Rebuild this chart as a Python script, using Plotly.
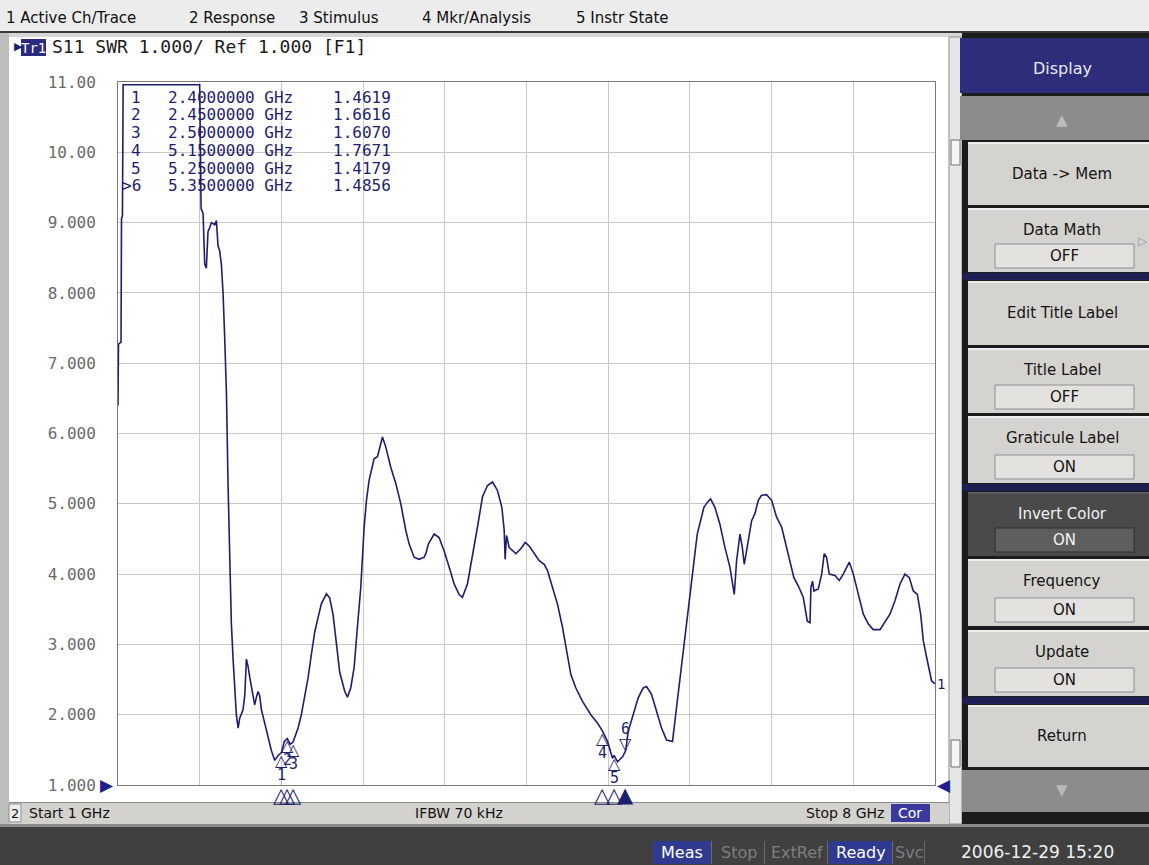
import plotly.graph_objects as go

# ---------------- data ----------------
freq_ghz = [1.000, 1.004, 1.026, 1.030, 1.038, 1.044, 1.700, 1.712, 1.729, 1.743, 1.757, 1.771,
            1.786, 1.800, 1.829, 1.843, 1.857, 1.871, 1.886, 1.900, 1.914, 1.929, 1.943, 1.957,
            1.971, 1.986, 2.000, 2.014, 2.029, 2.043, 2.071, 2.086, 2.100, 2.114, 2.129, 2.143,
            2.157, 2.171, 2.186, 2.200, 2.214, 2.229, 2.257, 2.286, 2.314, 2.343, 2.371, 2.400,
            2.425, 2.450, 2.475, 2.500, 2.514, 2.543, 2.571, 2.600, 2.629, 2.657, 2.686, 2.714,
            2.743, 2.786, 2.814, 2.843, 2.871, 2.900, 2.943, 2.966, 2.994, 3.023, 3.051, 3.080,
            3.109, 3.129, 3.151, 3.180, 3.194, 3.223, 3.243, 3.266, 3.294, 3.337, 3.380, 3.423,
            3.466, 3.494, 3.537, 3.580, 3.623, 3.637, 3.660, 3.709, 3.751, 3.794, 3.837, 3.880,
            3.923, 3.951, 3.994, 4.037, 4.080, 4.123, 4.166, 4.209, 4.251, 4.289, 4.309, 4.317,
            4.329, 4.351, 4.409, 4.451, 4.489, 4.523, 4.566, 4.609, 4.651, 4.680, 4.723, 4.766,
            4.809, 4.837, 4.880, 4.923, 4.980, 5.051, 5.109, 5.150, 5.194, 5.237, 5.250, 5.280,
            5.323, 5.350, 5.371, 5.414, 5.457, 5.500, 5.529, 5.571, 5.614, 5.657, 5.700, 5.751,
            5.771, 5.800, 5.829, 5.857, 5.886, 5.914, 5.943, 5.963, 5.991, 6.020, 6.049, 6.077,
            6.114, 6.157, 6.200, 6.243, 6.280, 6.300, 6.329, 6.349, 6.366, 6.391, 6.429, 6.457,
            6.486, 6.514, 6.557, 6.600, 6.643, 6.686, 6.729, 6.757, 6.791, 6.829, 6.871, 6.906,
            6.929, 6.937, 6.951, 6.963, 7.000, 7.029, 7.051, 7.071, 7.094, 7.143, 7.180, 7.214,
            7.266, 7.300, 7.343, 7.386, 7.429, 7.471, 7.529, 7.571, 7.614, 7.657, 7.700, 7.743,
            7.780, 7.814, 7.849, 7.877, 7.900, 7.929, 7.971, 8.000]
swr = [6.40, 7.27, 7.30, 9.05, 9.10, 10.96, 10.96, 9.20, 9.13, 8.41, 8.35, 8.87,
       8.93, 9.00, 8.97, 9.03, 8.67, 8.60, 8.40, 8.00, 7.37, 6.58, 5.27, 4.16,
       3.31, 2.79, 2.33, 2.00, 1.81, 1.95, 2.07, 2.27, 2.79, 2.69, 2.53, 2.40,
       2.27, 2.14, 2.25, 2.33, 2.27, 2.07, 1.88, 1.68, 1.49, 1.35, 1.42, 1.46,
       1.62, 1.66, 1.58, 1.61, 1.67, 1.81, 2.00, 2.27, 2.53, 2.86, 3.18, 3.38,
       3.58, 3.72, 3.66, 3.42, 2.99, 2.60, 2.33, 2.25, 2.38, 2.67, 3.24, 3.81,
       4.67, 5.05, 5.33, 5.57, 5.64, 5.67, 5.81, 5.95, 5.81, 5.52, 5.29, 5.00,
       4.62, 4.43, 4.24, 4.21, 4.24, 4.29, 4.43, 4.57, 4.52, 4.33, 4.10, 3.86,
       3.71, 3.67, 3.86, 4.24, 4.67, 5.10, 5.26, 5.31, 5.19, 4.95, 4.62, 4.21,
       4.55, 4.38, 4.29, 4.36, 4.45, 4.40, 4.29, 4.19, 4.14, 4.05, 3.81, 3.57,
       3.24, 2.95, 2.57, 2.38, 2.19, 2.00, 1.88, 1.77, 1.62, 1.38, 1.42, 1.33,
       1.40, 1.49, 1.76, 2.00, 2.24, 2.38, 2.40, 2.29, 2.05, 1.81, 1.64, 1.62,
       1.90, 2.29, 2.76, 3.14, 3.52, 3.90, 4.29, 4.57, 4.76, 4.95, 5.02, 5.07,
       4.95, 4.71, 4.38, 4.10, 3.71, 4.19, 4.57, 4.38, 4.14, 4.38, 4.76, 4.86,
       5.05, 5.12, 5.13, 5.05, 4.81, 4.67, 4.38, 4.19, 3.95, 3.83, 3.67, 3.33,
       3.31, 3.81, 3.90, 3.76, 3.79, 4.00, 4.29, 4.24, 4.00, 3.98, 3.91, 4.00,
       4.17, 4.00, 3.71, 3.43, 3.29, 3.21, 3.21, 3.31, 3.43, 3.62, 3.86, 4.00,
       3.95, 3.76, 3.71, 3.43, 3.05, 2.81, 2.48, 2.44]

marker_ids = ["1", "2", "3", "4", "5", "6"]
marker_freq_ghz = [2.40, 2.45, 2.50, 5.15, 5.25, 5.35]
marker_swr = [1.4619, 1.6616, 1.6070, 1.7671, 1.4179, 1.4856]
active_marker = "6"

y_tick_vals = [1, 2, 3, 4, 5, 6, 7, 8, 9, 10, 11]
y_tick_text = ["1.000", "2.000", "3.000", "4.000", "5.000", "6.000",
               "7.000", "8.000", "9.000", "10.00", "11.00"]
x_start_ghz, x_stop_ghz, x_divisions = 1.0, 8.0, 10

menu_items = ["1 Active Ch/Trace", "2 Response", "3 Stimulus", "4 Mkr/Analysis", "5 Instr State"]
header_text = "S11 SWR 1.000/ Ref 1.000 [F1]"
status_items = ["Meas", "Stop", "ExtRef", "Ready", "Svc"]
status_active = ["Meas", "Ready"]
timestamp = "2006-12-29 15:20"

# ---------------- layout helpers ----------------
W, H = 1149, 865
L, R, T, B = 118, 935, 82, 785
MONO = "DejaVu Sans Mono"
UI = "DejaVu Sans"
NAVY = "#1E1E6E"


def px(X):
    return (X - L) / (R - L)


def py(Y):
    return (B - Y) / (B - T)


shapes = []
annos = []


def rect(x0, y0, x1, y1, fill, line=None, lw=1, layer="above"):
    shapes.append(dict(type="rect", xref="paper", yref="paper",
                       x0=px(x0), x1=px(x1), y0=py(y1), y1=py(y0),
                       fillcolor=fill, layer=layer,
                       line=dict(color=line or fill, width=lw if line else 0)))


def text(X, Y, s, size=14, color="#111111", family=UI, xa="center", ya="middle"):
    annos.append(dict(xref="paper", yref="paper", x=px(X), y=py(Y), text=s,
                      showarrow=False, xanchor=xa, yanchor=ya,
                      font=dict(family=family, size=size, color=color)))


# ---------------- chrome ----------------
rect(0, 0, W, 32, "#ECECEC")
rect(0, 31, W, 33, "#3A3A3A")
rect(0, 33, W, 37, "#D6D6D6")
menu_x = [4, 187, 297, 420, 574]
for mx, s in zip(menu_x, menu_items):
    text(mx, 18, s, size=15, color="#101010", xa="left")

rect(0, 33, 9, 824, "#BDBDBD")
rect(9, 37, 949, 802, "#FFFFFF", layer="below")
# header
text(12, 47, "▶", size=11, color=NAVY, family="DejaVu Sans", xa="left")
rect(21, 39, 46, 56, "#2A2A80")
text(33.5, 47.5, "Tr1", size=14, color="#FFFFFF", family=MONO)
text(50, 47, header_text, size=18, color="#1A1A1A", family=MONO, xa="left")

# scroll strip between chart and panel
rect(949, 37, 962, 824, "#E6E6E6", line="#8A8A8A")
rect(951, 140, 960, 165, "#F4F4F4", line="#707070")
rect(951, 740, 960, 767, "#F4F4F4", line="#707070")

# right panel
rect(962, 33, W, 824, "#1C1C1C")
rect(960, 38, W, 93, "#2D2D7B")
text(1062, 68, "Display", size=16, color="#E8E8F4")
rect(960, 96, W, 140, "#8C8C8C")
text(1062, 120, "▲", size=15, color="#BDBDBD", family="DejaVu Sans")


def button(y0, y1, label, value=None, dark=False):
    face = "#4A4A4A" if dark else "#D5D3CF"
    tc = "#F2F2F2" if dark else "#141414"
    rect(968, y0, W, y1, face)
    rect(968, y0, W, y0 + 2, "#5C5C5C" if dark else "#EFEEEC")
    if value is None:
        text(1062, (y0 + y1) / 2, label, size=15, color=tc)
    else:
        text(1062, y0 + 22, label, size=15, color=tc)
        rect(995, y1 - 28, 1134, y1 - 4, "#5E5E5E" if dark else "#E4E2DE",
             line="#2E2E2E" if dark else "#8E8E8E")
        text(1064, y1 - 16, value, size=15, color=tc)


button(142, 205, "Data -> Mem")
button(208, 272, "Data Math", "OFF")
text(1143, 241, "▷", size=12, color="#9A9A9A", family="DejaVu Sans")
rect(962, 273, W, 280, "#1E1E52")
button(281, 345, "Edit Title Label")
button(348, 413, "Title Label", "OFF")
button(416, 483, "Graticule Label", "ON")
rect(962, 484, W, 491, "#1E1E52")
button(492, 556, "Invert Color", "ON", dark=True)
button(559, 626, "Frequency", "ON")
button(630, 696, "Update", "ON")
rect(962, 697, W, 704, "#1E1E52")
button(705, 767, "Return")
rect(962, 770, W, 812, "#8C8C8C")
text(1062, 790, "▼", size=15, color="#B8B8B8", family="DejaVu Sans")

# bottom channel bar
rect(9, 802, 949, 824, "#D4D2CE")
rect(9, 802, 949, 803, "#8A8A8A")
rect(9, 804, 21, 822, "#ECECEC", line="#909090")
text(15, 813, "2", size=13, color="#111111")
text(27, 813, "Start %g GHz" % x_start_ghz, size=14, color="#111111", xa="left")
text(459, 813, "IFBW 70 kHz", size=14, color="#111111")
text(886, 813, "Stop %g GHz" % x_stop_ghz, size=14, color="#111111", xa="right")
rect(891, 804, 930, 822, "#3A3A9E")
text(910, 813, "Cor", size=14, color="#FFFFFF")

# status bar
rect(0, 824, W, H, "#404040")
rect(0, 824, W, 827, "#8A8A8A")
status_x = [(652, 712), (712, 765), (765, 828), (828, 893), (893, 925)]
for (a, b), s in zip(status_x, status_items):
    if s in status_active:
        rect(a + 1, 841, b - 1, 864, "#2F3A90")
        text((a + b) / 2, 852, s, size=16, color="#FFFFFF")
    else:
        text((a + b) / 2, 852, s, size=16, color="#7E7E7E")
    rect(b - 1, 841, b, 864, "#6A6A6A")
text(1037, 852, timestamp, size=17, color="#F0F0F0")

# reference pointers
text(116, 785, "▶", size=17, color="#1F1F90", family="DejaVu Sans", xa="right")
text(935, 785, "◀", size=17, color="#1F1F90", family="DejaVu Sans", xa="left")

# ---------------- figure ----------------
fig = go.Figure()
fig.add_trace(go.Scatter(x=freq_ghz, y=swr, mode="lines",
                         line=dict(color=NAVY, width=1.6), hoverinfo="skip"))

# marker table
table_y0, table_dy = 97, 17.8
for i, (mid, f, v) in enumerate(zip(marker_ids, marker_freq_ghz, marker_swr)):
    yy = table_y0 + i * table_dy
    lab = (">" + mid) if mid == active_marker else mid
    text(143, yy, lab, size=16, color=NAVY, family=MONO, xa="right")
    text(166, yy, "%.7f GHz" % f, size=16, color=NAVY, family=MONO, xa="left")
    text(393, yy, "%.4f" % v, size=16, color=NAVY, family=MONO, xa="right")

# markers on trace
for mid, f, v in zip(marker_ids, marker_freq_ghz, marker_swr):
    if mid == active_marker:
        annos.append(dict(x=f, y=v, xref="x", yref="y", text="▽", showarrow=False,
                          yanchor="bottom", yshift=-4,
                          font=dict(family="DejaVu Sans", size=16, color=NAVY)))
        annos.append(dict(x=f, y=v, xref="x", yref="y", text=mid, showarrow=False,
                          yanchor="bottom", yshift=11,
                          font=dict(family=MONO, size=15, color=NAVY)))
        sym = "▲"
    else:
        annos.append(dict(x=f, y=v, xref="x", yref="y", text="△", showarrow=False,
                          yanchor="top", yshift=4,
                          font=dict(family="DejaVu Sans", size=16, color=NAVY)))
        annos.append(dict(x=f, y=v, xref="x", yref="y", text=mid, showarrow=False,
                          yanchor="top", yshift=-11,
                          font=dict(family=MONO, size=15, color=NAVY)))
        sym = "△"
    annos.append(dict(x=f, y=py(785), xref="x", yref="paper", text=sym, showarrow=False,
                      yanchor="top", yshift=4,
                      font=dict(family="DejaVu Sans", size=21, color=NAVY)))

# trace end label
annos.append(dict(x=freq_ghz[-1], y=swr[-1], xref="x", yref="y", text="1", showarrow=False,
                  xanchor="left", xshift=0,
                  font=dict(family=MONO, size=14, color=NAVY)))

fig.update_layout(
    width=W, height=H, autosize=False,
    margin=dict(l=L, r=W - R, t=T, b=H - B, pad=0),
    paper_bgcolor="#FFFFFF", plot_bgcolor="#FFFFFF",
    showlegend=False, shapes=shapes, annotations=annos,
    xaxis=dict(range=[x_start_ghz, x_stop_ghz], tick0=x_start_ghz,
               dtick=(x_stop_ghz - x_start_ghz) / x_divisions,
               showticklabels=False, showgrid=True, gridcolor="#C8C8C8", gridwidth=1,
               zeroline=False, showline=True, linecolor="#7A7A7A", linewidth=1, mirror=True,
               fixedrange=True),
    yaxis=dict(range=[1, 11], tickvals=y_tick_vals, ticktext=y_tick_text,
               ticks="outside", ticklen=18, tickcolor="rgba(0,0,0,0)",
               tickfont=dict(family=MONO, size=16, color="#6A6A6A"),
               showgrid=True, gridcolor="#C8C8C8", gridwidth=1,
               zeroline=False, showline=True, linecolor="#7A7A7A", linewidth=1, mirror=True,
               fixedrange=True),
)

fig.write_html("out.html", config={"displayModeBar": False},
               post_script="document.body.style.margin='0';document.body.style.overflow='hidden';")
